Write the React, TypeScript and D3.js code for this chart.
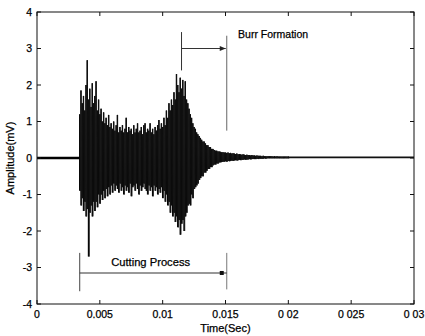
import React from "react";
import * as d3 from "d3";

const xTicks = [0, 0.005, 0.01, 0.015, 0.02, 0.025, 0.03];
const xTickLabels = ["0", "0.005", "0.01", "0.015", "0 02", "0 025", "0 03"];
const yTicks = [4, 3, 2, 1, 0, -1, -2, -3, -4];
const yTickLabels = ["4", "3", "2", "1", "0", "-1", "-2", "-3", "-4"];

const signalStart = 0.0034;
const signalStep = 0.0001;
const signalEnd = 0.03;
const baselineBefore = 0;
const baselineAfter = 0.015;

const upperEnvelope = [
  1.2, 1.85, 1.5, 1.7, 1.3, 2.0, 2.68, 1.6, 1.9, 1.4,
  2.05, 1.5, 1.7, 2.1, 1.3, 1.6, 1.2, 1.35, 1.0, 1.25,
  0.95, 1.1, 0.9, 1.18, 0.85, 0.95, 0.8, 1.0, 0.75, 0.9,
  1.18, 0.7, 0.85, 0.75, 0.9, 0.7, 0.8, 1.1, 0.7, 0.85,
  0.75, 0.8, 0.65, 0.9, 0.7, 0.8, 0.95, 0.7, 0.75, 0.85,
  0.65, 0.9, 0.95, 0.7, 0.8, 0.75, 0.95, 0.7, 0.8, 0.65,
  0.85, 0.75, 0.9, 1.04, 0.8, 0.95, 0.85, 1.1, 0.9, 1.3,
  1.1, 1.5, 1.3, 1.6, 1.45, 1.8, 1.6, 2.3, 2.0, 1.8,
  2.2, 1.9, 2.14, 1.7, 2.1, 1.6, 1.5, 1.35, 1.2, 1.1,
  0.95, 0.85, 0.8, 0.7, 0.65, 0.6, 0.55, 0.5, 0.45, 0.45,
  0.4, 0.35, 0.35, 0.3, 0.3, 0.25, 0.25, 0.22, 0.2, 0.2,
  0.18, 0.18, 0.17, 0.16, 0.16, 0.15, 0.15, 0.14, 0.15, 0.13,
  0.14, 0.12, 0.13, 0.12, 0.11, 0.12, 0.1, 0.11, 0.1, 0.09,
  0.1, 0.09, 0.08, 0.09, 0.08, 0.08, 0.07, 0.08, 0.07, 0.07,
  0.06, 0.07, 0.06, 0.06, 0.06, 0.05, 0.06, 0.05, 0.05, 0.05,
  0.05, 0.05, 0.05, 0.05, 0.04, 0.05, 0.04, 0.05, 0.04, 0.04,
  0.04, 0.04, 0.04, 0.04, 0.04, 0.04, 0.04,
];

const lowerEnvelope = [
  -0.9, -1.3, -1.1, -1.45, -1.2, -1.6, -1.4, -2.7, -1.5, -1.3,
  -1.6, -1.2, -1.45, -1.2, -1.35, -1.0, -1.25, -1.0, -1.15, -0.9,
  -1.1, -0.85, -1.05, -0.8, -1.0, -0.75, -0.95, -0.7, -0.9, -0.75,
  -0.85, -0.95, -0.7, -0.9, -0.8, -1.0, -0.75, -0.9, -0.8, -0.95,
  -0.7, -1.05, -0.8, -0.75, -0.9, -0.7, -0.85, -1.0, -0.75, -0.9,
  -0.8, -0.7, -0.85, -0.9, -1.0, -0.75, -0.9, -0.8, -1.05, -0.75,
  -0.9, -0.8, -1.0, -0.85, -0.95, -0.8, -1.1, -0.9, -1.2, -1.0,
  -1.3, -1.2, -1.5, -1.3, -1.6, -1.5, -1.75, -1.6, -1.9, -1.7,
  -2.1, -1.8, -1.7, -2.0, -1.6, -1.5, -1.3, -1.25, -1.3, -1.0,
  -1.1, -0.85, -0.8, -0.75, -0.7, -0.6, -0.55, -0.5, -0.5, -0.4,
  -0.4, -0.35, -0.3, -0.3, -0.25, -0.25, -0.2, -0.18, -0.18, -0.15,
  -0.15, -0.12, -0.12, -0.11, -0.1, -0.1, -0.09, -0.1, -0.08, -0.09,
  -0.08, -0.07, -0.08, -0.07, -0.06, -0.07, -0.06, -0.05, -0.06, -0.05,
  -0.05, -0.04, -0.05, -0.04, -0.04, -0.03, -0.04, -0.03, -0.03, -0.03,
  -0.03, -0.02, -0.03, -0.02, -0.02, -0.02, -0.02, -0.01, -0.02, -0.01,
  -0.01, -0.01, -0.01, -0.01, -0.01, -0.01, -0.01, -0.01, -0.01, -0.01,
  -0.01, -0.01, -0.01, -0.01, -0.01, -0.01, -0.01,
];

// annotation anchors (data coordinates)
const cuttingStart = 0.0034;
const cuttingEnd = 0.0151;
const burrStart = 0.0115;
const burrEnd = 0.0151;

const W = 425;
const H = 336;
const m = { left: 37, right: 11, top: 12, bottom: 32 };

export default function App() {
  const x = d3.scaleLinear().domain([0, 0.03]).range([m.left, W - m.right]);
  const y = d3.scaleLinear().domain([-4, 4]).range([H - m.bottom, m.top]);
  const font = "'Liberation Sans', Arial, sans-serif";

  const times = upperEnvelope.map((_, i) => signalStart + i * signalStep);
  const zig: [number, number][] = [];
  times.forEach((t, i) => {
    zig.push([t, upperEnvelope[i]]);
    zig.push([t + signalStep / 2, lowerEnvelope[i]]);
  });
  const line = d3
    .line<[number, number]>()
    .x((d) => x(d[0]))
    .y((d) => y(d[1]));
  const lastT = times[times.length - 1];

  const x0 = x.range()[0];
  const x1 = x.range()[1];
  const y0 = y.range()[0];
  const y1 = y.range()[1];
  const textStyle = { fill: "#000", stroke: "#000", strokeWidth: 0.25 };

  return (
    <svg
      width={W}
      height={H}
      style={{ position: "absolute", left: 0, top: 0, background: "#fff" }}
      fontFamily={font}
    >
      <rect x={0} y={0} width={W} height={H} fill="#fff" />
      {/* flat baselines */}
      <line x1={x(0)} x2={x(signalStart)} y1={y(baselineBefore)} y2={y(baselineBefore)} stroke="#000" strokeWidth={2.4} />
      <line x1={x(lastT)} x2={x(signalEnd)} y1={y(baselineAfter)} y2={y(baselineAfter)} stroke="#111" strokeWidth={1.8} />
      {/* signal */}
      {times.map((t, i) => (
        <line
          key={i}
          x1={x(t)}
          x2={x(t)}
          y1={y(upperEnvelope[i])}
          y2={y(lowerEnvelope[i])}
          stroke="#000"
          strokeWidth={1.4}
        />
      ))}
      <path d={line(zig) || ""} fill="none" stroke="#111" strokeWidth={0.7} />

      {/* frame */}
      <rect x={x0} y={y1} width={x1 - x0} height={y0 - y1} fill="none" stroke="#111" strokeWidth={1} />
      {xTicks.map((t, i) => (
        <g key={"xt" + i}>
          <line x1={x(t)} x2={x(t)} y1={y0} y2={y0 - 4} stroke="#111" />
          <line x1={x(t)} x2={x(t)} y1={y1} y2={y1 + 4} stroke="#111" />
          <text x={x(t)} y={y0 + 14} textAnchor="middle" fontSize={10.5} {...textStyle}>
            {xTickLabels[i]}
          </text>
        </g>
      ))}
      {yTicks.map((t, i) => (
        <g key={"yt" + i}>
          <line x1={x0} x2={x0 + 4} y1={y(t)} y2={y(t)} stroke="#111" />
          <line x1={x1} x2={x1 - 4} y1={y(t)} y2={y(t)} stroke="#111" />
          <text x={x0 - 5} y={y(t) + 3.5} textAnchor="end" fontSize={10.5} {...textStyle}>
            {yTickLabels[i]}
          </text>
        </g>
      ))}
      <text x={(x0 + x1) / 2} y={H - 4} textAnchor="middle" fontSize={11} {...textStyle}>
        Time(Sec)
      </text>
      <text
        transform={`translate(14, ${(y0 + y1) / 2}) rotate(-90)`}
        textAnchor="middle"
        fontSize={11}
        {...textStyle}
      >
        Amplitude(mV)
      </text>

      {/* Burr formation annotation */}
      <line x1={x(burrStart)} x2={x(burrStart)} y1={y(3.45)} y2={y(2.4)} stroke="#333" />
      <line x1={x(burrEnd)} x2={x(burrEnd)} y1={y(3.35)} y2={y(0.75)} stroke="#666" />
      <line x1={x(burrStart)} x2={x(burrEnd) - 1} y1={y(3.0)} y2={y(3.0)} stroke="#333" />
      <path d={`M${x(burrEnd) - 1},${y(3.0)} l-6,-2.5 l0,5 z`} fill="#222" />
      <text x={x(0.0160)} y={y(3.28)} fontSize={10.5} {...textStyle}>
        Burr Formation
      </text>

      {/* Cutting process annotation */}
      <line x1={x(cuttingStart)} x2={x(cuttingStart)} y1={y(-2.6)} y2={y(-3.65)} stroke="#444" />
      <line x1={x(cuttingEnd)} x2={x(cuttingEnd)} y1={y(-2.6)} y2={y(-3.6)} stroke="#777" />
      <line x1={x(cuttingStart)} x2={x(cuttingEnd)} y1={y(-3.15)} y2={y(-3.15)} stroke="#333" strokeWidth={1.2} />
      <rect x={x(cuttingEnd) - 7} y={y(-3.15) - 2} width={4} height={4} fill="#111" />
      <text x={x(0.0059)} y={y(-2.95)} fontSize={11.2} {...textStyle}>
        Cutting Process
      </text>
    </svg>
  );
}
